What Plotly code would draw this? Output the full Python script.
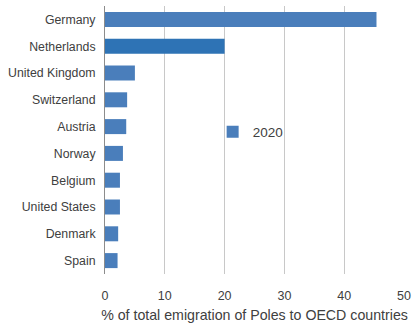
import plotly.graph_objects as go

# Share of total emigration of Poles to OECD countries, 2020 (%)
countries = ["Germany", "Netherlands", "United Kingdom", "Switzerland", "Austria",
             "Norway", "Belgium", "United States", "Denmark", "Spain"]
shares = [45.4, 20.0, 5.0, 3.7, 3.55, 3.0, 2.5, 2.5, 2.2, 2.1]
series_name = "2020"
x_ticks = [0, 10, 20, 30, 40, 50]

base_blue = "#4a7ebb"
dark_blue = "#2e73b5"
bar_colors = [dark_blue if c == "Netherlands" else base_blue for c in countries]

font = dict(family="Liberation Sans, Arial, sans-serif", size=12, color="#404040")

fig = go.Figure(
    go.Bar(
        x=shares,
        y=countries,
        orientation="h",
        name=series_name,
        marker=dict(color=bar_colors, line=dict(width=0)),
        showlegend=True,
    )
)

fig.update_layout(
    width=417,
    height=326,
    margin=dict(l=105, r=8, t=6, b=49),
    paper_bgcolor="white",
    plot_bgcolor="white",
    font=font,
    bargap=0.44,
    legend=dict(
        x=0.36,
        y=0.53,
        xanchor="left",
        yanchor="middle",
        bgcolor="rgba(0,0,0,0)",
        font=dict(size=13.5, color="#404040"),
        itemwidth=30,
    ),
    xaxis=dict(
        range=[0, 50],
        tickvals=x_ticks,
        showgrid=True,
        gridcolor="#c8c8c8",
        gridwidth=1,
        zeroline=False,
        showline=False,
        ticks="",
        ticklabelstandoff=12,
        tickfont=dict(size=12.5),
        title=dict(text="% of total emigration of Poles to OECD countries",
                   font=dict(size=14.2, color="#404040"), standoff=8),
    ),
    yaxis=dict(
        categoryorder="array",
        categoryarray=countries[::-1],
        autorange=False,
        range=[-0.5, len(countries) - 0.5],
        showline=True,
        linecolor="#8c8c8c",
        linewidth=1,
        showgrid=False,
        ticks="",
        ticklabelstandoff=6,
        tickfont=dict(size=12.3),
    ),
)

fig.write_html("out.html")
